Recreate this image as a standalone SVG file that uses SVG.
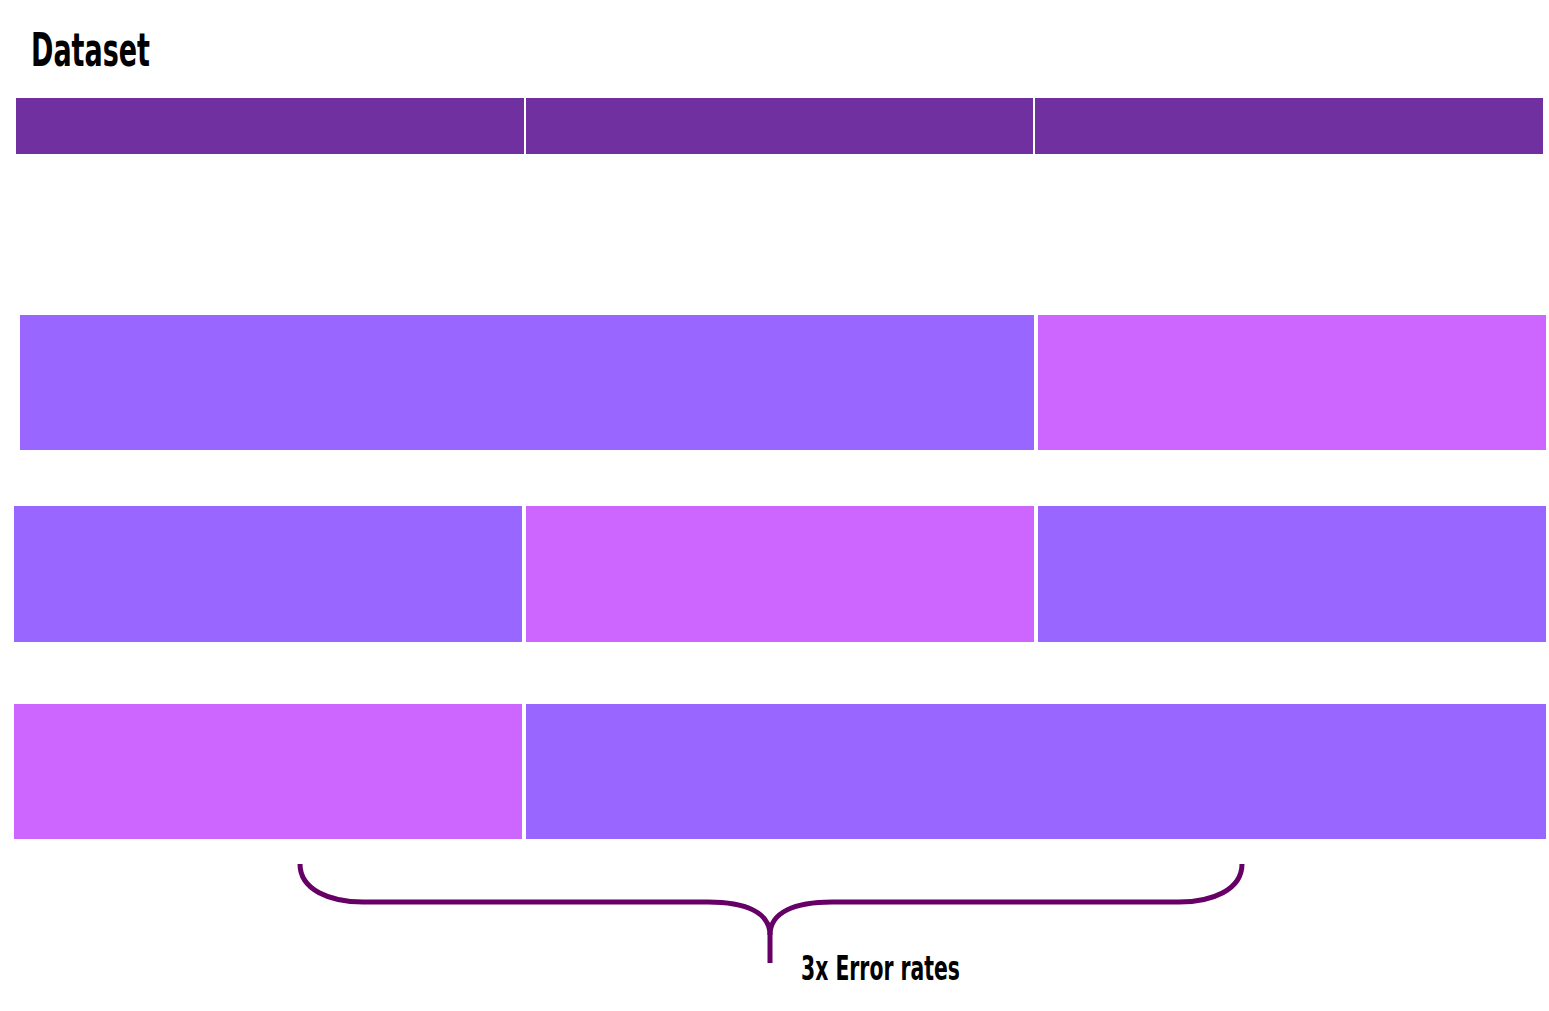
<svg xmlns="http://www.w3.org/2000/svg" width="1549" height="1011" viewBox="0 0 1549 1011">
<style>
.hdr{fill:#7030A0}
.tr{fill:#9966FF}
.te{fill:#CC66FF}
.lbl{font-family:"Liberation Sans Narrow","DejaVu Sans Condensed","Liberation Sans",sans-serif;font-stretch:condensed;font-weight:bold;fill:#000}
.brace{fill:none;stroke:#660066;stroke-width:5}
</style>
<rect width="1549" height="1011" fill="#fff"/>
<g id="title"><text class="lbl" x="31" y="66" font-size="46" textLength="119" lengthAdjust="spacingAndGlyphs">Dataset</text></g>
<g id="dataset">
<rect class="hdr" x="16" y="98" width="508" height="56"/>
<rect class="hdr" x="526" y="98" width="507" height="56"/>
<rect class="hdr" x="1035" y="98" width="508" height="56"/>
</g>
<g id="fold1">
<rect class="tr" x="20" y="315" width="1014" height="135"/>
<rect class="te" x="1038" y="315" width="508" height="135"/>
</g>
<g id="fold2">
<rect class="tr" x="14" y="506" width="508" height="136"/>
<rect class="te" x="526" y="506" width="508" height="136"/>
<rect class="tr" x="1038" y="506" width="508" height="136"/>
</g>
<g id="fold3">
<rect class="te" x="14" y="704" width="508" height="135"/>
<rect class="tr" x="526" y="704" width="1020" height="135"/>
</g>
<g id="connectors">
<path class="brace" d="M300,864 C300,890 330,902 363,902 L708,902 C745,902 770,912 770,935 L770,963"/>
<path class="brace" d="M1242,864 C1242,890 1212,902 1179,902 L832,902 C795,902 770,912 770,935"/>
</g>
<g id="label"><text class="lbl" x="801" y="980" font-size="33" textLength="159" lengthAdjust="spacingAndGlyphs">3x Error rates</text></g>
</svg>
